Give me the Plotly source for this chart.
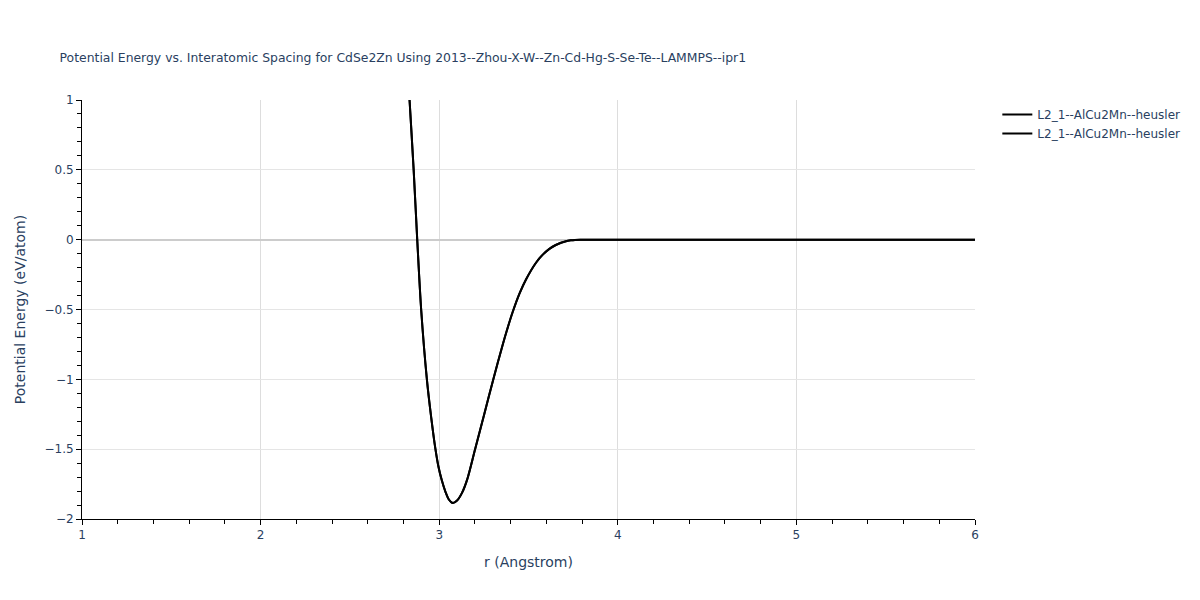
import plotly.graph_objects as go

r_vals = [2.80, 2.834, 2.857, 2.877, 2.899, 2.931, 2.955, 2.979, 2.995, 3.015, 3.035, 3.055, 3.076,
          3.10, 3.127, 3.156, 3.201, 3.25, 3.305, 3.356, 3.38, 3.411, 3.45, 3.486, 3.542, 3.58,
          3.617, 3.65, 3.682, 3.71, 3.737, 3.76, 3.79, 4.0, 4.5, 5.0, 5.5, 6.0]
e_vals = [1.75, 1.0, 0.5, 0.0, -0.5, -1.0, -1.27, -1.5, -1.62, -1.725, -1.805, -1.862, -1.886,
          -1.868, -1.815, -1.72, -1.5, -1.26, -0.99, -0.75, -0.645, -0.52, -0.385, -0.285, -0.165, -0.107,
          -0.066, -0.040, -0.022, -0.011, -0.005, -0.0015, 0.0, 0.0, 0.0, 0.0, 0.0, 0.0]
series_names = ["L2_1--AlCu2Mn--heusler", "L2_1--AlCu2Mn--heusler"]

FONT = "DejaVu Sans, Verdana, sans-serif"

fig = go.Figure()
for name in series_names:
    fig.add_trace(go.Scatter(x=r_vals, y=e_vals, mode="lines", name=name,
                             line=dict(color="black", width=2, shape="spline", smoothing=0.8)))

fig.update_layout(
    width=1200, height=600,
    template="plotly_white",
    font=dict(family=FONT, color="#2a3f5f"),
    title=dict(text="Potential Energy vs. Interatomic Spacing for CdSe2Zn Using 2013--Zhou-X-W--Zn-Cd-Hg-S-Se-Te--LAMMPS--ipr1",
               x=0.043, xanchor="left", y=0.925, font=dict(size=12.4, family=FONT)),
    margin=dict(l=72, r=233, t=92, b=89),
    legend=dict(x=1.025, y=1, font=dict(size=12, family=FONT)),
    xaxis=dict(title=dict(text="r (Angstrom)", font=dict(size=14)), range=[1, 6], dtick=1,
               showline=True, linecolor="black", linewidth=1, ticks="outside", tickcolor="black",
               gridcolor="#dddddd", zeroline=False,
               minor=dict(dtick=0.2, ticks="outside", ticklen=4, tickcolor="black", showgrid=False),
               tickfont=dict(size=12)),
    yaxis=dict(title=dict(text="Potential Energy (eV/atom)", font=dict(size=14)), range=[-2, 1], dtick=0.5,
               showline=True, linecolor="black", linewidth=1, ticks="outside", tickcolor="black",
               gridcolor="#e5e5e5", zeroline=True, zerolinecolor="#cccccc", zerolinewidth=2,
               minor=dict(dtick=0.1, ticks="outside", ticklen=4, tickcolor="black", showgrid=False),
               tickfont=dict(size=12)),
)
fig.write_html("out.html")
